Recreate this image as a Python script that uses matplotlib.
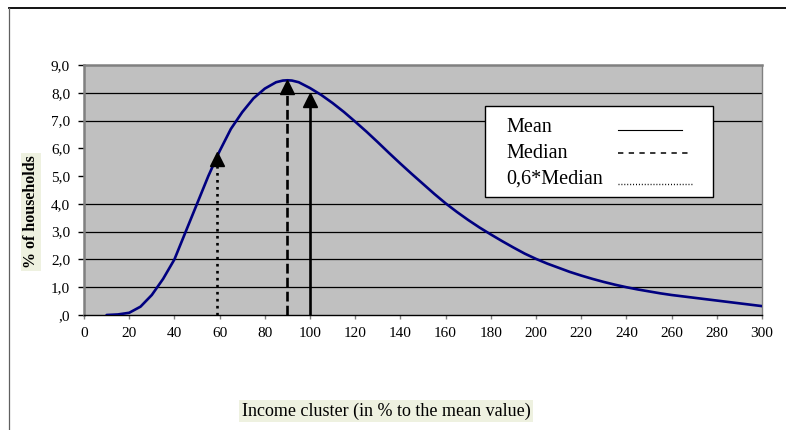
import matplotlib
matplotlib.use("Agg")
import matplotlib.pyplot as plt
from matplotlib.lines import Line2D
from matplotlib.patches import Rectangle
from matplotlib.transforms import ScaledTranslation

plt.rcParams['font.family'] = ['Liberation Serif', 'DejaVu Serif']

# ---- data ----
income = [10, 15, 20, 25, 30, 35, 40, 45, 50, 55, 60, 65, 70, 75, 80, 85, 88, 90, 92,
          95, 100, 105, 110, 115, 120, 125, 130, 135, 140, 145, 150, 155, 160, 165,
          170, 175, 180, 185, 190, 195, 200, 205, 210, 215, 220, 225, 230, 235, 240,
          245, 250, 255, 260, 265, 270, 275, 280, 285, 290, 295, 300]
households = [0.0, 0.02, 0.08, 0.3, 0.72, 1.3, 2.0, 3.0, 4.0, 5.0, 5.9, 6.7, 7.3,
              7.8, 8.15, 8.38, 8.44, 8.45, 8.44, 8.38, 8.17, 7.92, 7.63, 7.31, 6.96,
              6.6, 6.22, 5.83, 5.45, 5.08, 4.72, 4.36, 4.02, 3.71, 3.42, 3.15, 2.9,
              2.66, 2.43, 2.21, 2.02, 1.85, 1.7, 1.55, 1.42, 1.3, 1.19, 1.09, 1.0,
              0.92, 0.85, 0.78, 0.72, 0.67, 0.62, 0.57, 0.52, 0.47, 0.42, 0.37, 0.32]

arrow_names = ["0,6*Median", "Median", "Mean"]
arrow_x = [59, 90, 100]
arrow_top = [5.85, 8.45, 8.0]
arrow_styles = [":", "--", "-"]

x_ticks = list(range(0, 301, 20))
y_ticks = [0, 1, 2, 3, 4, 5, 6, 7, 8, 9]
y_tick_labels = [",0", "1,0", "2,0", "3,0", "4,0", "5,0", "6,0", "7,0", "8,0", "9,0"]
grid_levels = [1, 2, 3, 4, 7, 8]

W, H = 786, 430
fig = plt.figure(figsize=(W / 100, H / 100), dpi=100)
fig.patch.set_facecolor("white")

def fx(px):
    return px / W

def fy(py):
    return 1 - py / H

ax = fig.add_axes([fx(84), fy(315), (762 - 84) / W, (315 - 65) / H])
ax.set_facecolor("#C0C0C0")
ax.set_xlim(0, 300)
ax.set_ylim(0, 9)

for g in grid_levels:
    ax.axhline(g, color="black", lw=0.9, zorder=1)

ax.plot(income, households, color="#000080", lw=1.9, zorder=3,
        solid_capstyle="round", solid_joinstyle="round")

ms = 10
for xv, top, ls in zip(arrow_x, arrow_top, arrow_styles):
    ax.plot([xv, xv], [0, top - 0.25], color="black", lw=1.9, linestyle=ls, zorder=4)
    off = ScaledTranslation(0, -ms / 2 / 72, fig.dpi_scale_trans)
    ax.plot([xv], [top], marker="^", ms=ms, color="black", mec="black",
            transform=ax.transData + off, zorder=5, clip_on=False)

ax.set_xticks(x_ticks)
ax.set_xticklabels([str(v) for v in x_ticks])
ax.set_yticks(y_ticks)
ax.set_yticklabels(y_tick_labels)
ax.tick_params(axis="x", direction="out", length=3, width=1, color="#808080",
               pad=5.5, labelsize=11)
ax.tick_params(axis="y", direction="out", length=4, width=1, color="black",
               pad=6, labelsize=11)

for side in ["top", "left"]:
    ax.spines[side].set_color("#808080")
    ax.spines[side].set_linewidth(1.8)
ax.spines["right"].set_color("#808080")
ax.spines["right"].set_linewidth(1.0)
ax.spines["bottom"].set_color("black")
ax.spines["bottom"].set_linewidth(1.0)

# legend-like box
fig.patches.append(Rectangle((fx(485), fy(197)), (713 - 485) / W, (197 - 106) / H,
                             transform=fig.transFigure, facecolor="white",
                             edgecolor="black", lw=1.0, zorder=6))
leg_text_y = [128, 153, 179]
leg_line_y = [130, 153, 184]
leg_line_end = [682, 688, 692]
leg_labels = ["Mean", "Median", "0,6*Median"]
leg_ls = ["-", (0, (3.5, 3.5)), (0, (0.7, 1.4))]
leg_lw = [0.8, 1.1, 1.0]
for lab, ty, ly, le, ls, lw in zip(leg_labels, leg_text_y, leg_line_y, leg_line_end, leg_ls, leg_lw):
    fig.text(fx(506), fy(ty), lab, fontsize=14.5, va="center", ha="left", zorder=7)
    fig.lines.append(Line2D([fx(618), fx(le)], [fy(ly), fy(ly)], transform=fig.transFigure,
                            color="black", lw=lw, linestyle=ls, zorder=7))

# axis labels with pale background
fig.text(fx(31), fy(212), "% of households", rotation=90, fontsize=11.5,
         fontweight="bold", ha="center", va="center",
         bbox=dict(boxstyle="square,pad=0.15", facecolor="#EEF1E0", edgecolor="none"))
fig.text(fx(386), fy(411), "Income cluster (in % to the mean value)", fontsize=13,
         ha="center", va="center",
         bbox=dict(boxstyle="square,pad=0.15", facecolor="#EEF1E0", edgecolor="none"))

# outer chart frame
fig.lines.append(Line2D([fx(9), fx(786)], [fy(8), fy(8)], transform=fig.transFigure,
                        color="black", lw=1.3))
fig.lines.append(Line2D([fx(9), fx(9)], [fy(8), fy(430)], transform=fig.transFigure,
                        color="#606060", lw=0.9))

fig.savefig("out.png", dpi=100)
